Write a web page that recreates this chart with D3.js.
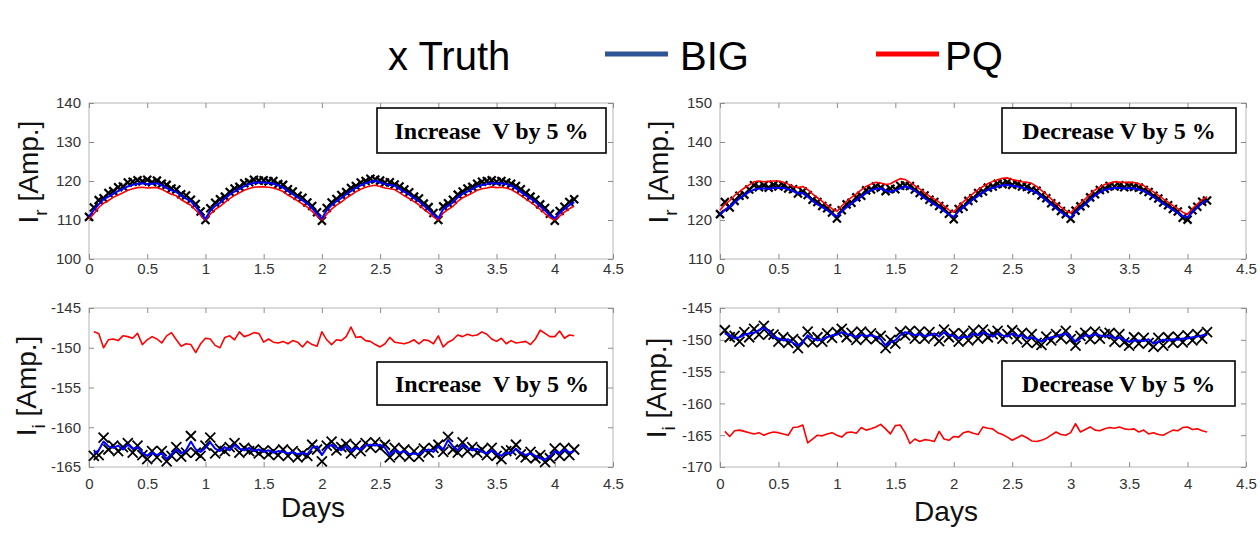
<!DOCTYPE html>
<html>
<head>
<meta charset="utf-8">
<script src="https://cdn.jsdelivr.net/npm/d3@7"></script>
<style>
  html, body { margin: 0; padding: 0; background: #fff; }
  svg { display: block; }
</style>
</head>
<body>
<svg id="chart" width="1260" height="535"></svg>
<script>
// Feeder current estimates, one sample per hour, over a little more than four days.
const dayTicks = [0, 0.5, 1, 1.5, 2, 2.5, 3, 3.5, 4, 4.5];
const irIncTicks = [100, 110, 120, 130, 140];
const irDecTicks = [110, 120, 130, 140, 150];
const iiIncTicks = [-165, -160, -155, -150, -145];
const iiDecTicks = [-170, -165, -160, -155, -150, -145];

const legendLabels = ["x Truth", "BIG", "PQ"];
const caseLabels = ["Increase  V by 5 %", "Decrease V by 5 %"];

// I_r, voltage raised 5 % (hours 0..100)
const irIncTruth = [
  110.8, 113.2, 115.1, 115.6, 116.9, 117.4, 118.4, 118.6, 119.6, 119.8, 120.2, 119.9, 120.3, 119.7, 120.1, 119.3, 119.0, 118.1, 117.8, 116.6, 116.3, 115.2, 114.1, 112.2,
  110.0, 113.0, 114.4, 115.3, 116.0, 117.2, 118.1, 118.5, 119.4, 119.7, 120.3, 120.1, 120.2, 119.9, 120.0, 119.2, 119.0, 117.9, 117.3, 116.2, 115.7, 114.5, 113.6, 112.0,
  109.8, 113.1, 114.5, 115.4, 116.4, 117.2, 118.2, 118.7, 119.6, 120.0, 120.6, 120.4, 120.1, 119.6, 119.7, 119.1, 118.6, 117.8, 117.1, 116.0, 115.5, 114.2, 113.3, 111.8,
  110.0, 113.5, 114.3, 115.2, 116.5, 117.3, 118.1, 118.5, 119.3, 119.8, 120.0, 120.2, 119.8, 120.0, 119.6, 119.3, 118.7, 117.9, 116.9, 116.0, 115.2, 114.0, 113.1, 111.6,
  109.8, 112.3, 113.4, 114.6, 115.3
];
const irIncBig = [
  110.8, 112.6, 114.0, 115.3, 116.0, 116.7, 117.4, 118.0, 118.6, 119.0, 119.3, 119.4, 119.2, 119.3, 119.4, 118.9, 118.2, 117.6, 117.2, 116.2, 115.5, 114.8, 113.4, 111.8,
  110.3, 112.4, 113.6, 114.4, 115.5, 116.5, 117.3, 118.0, 118.6, 119.2, 119.5, 119.6, 119.6, 119.5, 119.3, 118.9, 118.3, 117.4, 116.6, 115.8, 115.0, 114.2, 113.0, 111.6,
  110.4, 112.5, 113.8, 114.8, 115.6, 116.6, 117.4, 118.2, 118.9, 119.4, 119.8, 120.0, 119.6, 119.2, 119.0, 118.8, 118.0, 117.2, 116.5, 115.6, 114.8, 113.7, 112.6, 111.4,
  110.4, 112.8, 113.6, 114.5, 115.8, 116.7, 117.3, 117.9, 118.6, 119.0, 119.2, 119.5, 119.3, 119.4, 119.2, 118.8, 118.1, 117.2, 116.3, 115.5, 114.6, 113.5, 112.4, 111.2,
  110.4, 111.8, 112.8, 113.8, 114.6
];
const irIncPq = [
  110.3, 111.6, 113.2, 114.3, 115.0, 115.8, 116.4, 117.0, 117.6, 118.0, 118.3, 118.4, 118.2, 118.3, 118.3, 117.9, 117.2, 116.6, 116.2, 115.2, 114.5, 113.8, 112.5, 111.2,
  110.0, 111.5, 112.7, 113.5, 114.5, 115.5, 116.3, 117.0, 117.6, 118.1, 118.4, 118.5, 118.5, 118.4, 118.2, 117.8, 117.3, 116.4, 115.7, 114.9, 114.1, 113.3, 112.2, 111.0,
  110.0, 111.5, 112.8, 113.8, 114.6, 115.6, 116.4, 117.2, 117.9, 118.4, 118.7, 118.9, 118.6, 118.2, 118.0, 117.8, 117.0, 116.2, 115.5, 114.7, 113.9, 112.8, 111.8, 110.8,
  110.0, 111.8, 112.7, 113.5, 114.8, 115.7, 116.3, 116.9, 117.6, 118.0, 118.2, 118.5, 118.3, 118.4, 118.2, 117.8, 117.1, 116.3, 115.4, 114.6, 113.7, 112.7, 111.6, 110.6,
  110.0, 111.0, 112.0, 112.9, 113.6
];

// I_r, voltage lowered 5 % (hours 0..100)
const irDecTruth = [
  121.5, 124.6, 123.2, 124.9, 126.2, 126.5, 127.8, 128.9, 128.4, 128.9, 128.3, 129.0, 128.6, 128.9, 128.1, 127.9, 126.8, 127.3, 126.4, 125.2, 124.6, 123.6, 123.0, 121.9,
  120.4, 122.5, 124.0, 124.4, 125.8, 126.2, 127.6, 127.8, 128.6, 128.3, 127.4, 128.0, 127.9, 128.8, 128.9, 128.7, 127.8, 126.9, 126.3, 125.2, 124.6, 123.6, 122.8, 121.6,
  120.2, 122.8, 123.4, 124.9, 125.6, 126.9, 127.3, 128.3, 128.6, 129.3, 129.2, 129.7, 129.0, 129.2, 128.6, 128.5, 127.8, 127.5, 126.3, 125.6, 124.3, 123.5, 122.3, 121.5,
  120.3, 122.4, 123.5, 124.3, 125.8, 126.6, 127.7, 128.0, 128.7, 128.6, 128.9, 128.4, 128.7, 128.5, 128.3, 127.7, 127.2, 126.2, 125.5, 124.5, 123.8, 122.8, 122.2, 120.6,
  120.1, 122.5, 123.4, 124.7, 125.0
];
const irDecBig = [
  121.3, 122.6, 123.5, 124.5, 125.5, 126.4, 127.2, 127.8, 128.1, 128.1, 128.0, 128.2, 128.3, 128.2, 127.9, 127.4, 126.8, 126.9, 126.0, 124.9, 124.0, 123.3, 122.5, 121.6,
  120.9, 122.2, 123.3, 124.2, 125.1, 126.0, 126.9, 127.6, 128.0, 128.1, 127.5, 127.2, 127.6, 128.1, 128.6, 128.2, 127.5, 126.6, 125.6, 124.8, 124.0, 123.3, 122.3, 121.4,
  120.8, 122.3, 123.3, 124.3, 125.3, 126.2, 127.0, 127.7, 128.2, 128.6, 128.9, 129.0, 128.8, 128.6, 128.3, 127.9, 127.5, 127.0, 126.0, 125.0, 124.0, 123.0, 122.0, 121.2,
  120.6, 122.0, 123.0, 124.0, 125.2, 126.3, 127.1, 127.7, 128.0, 128.2, 128.2, 128.1, 128.2, 128.1, 127.8, 127.4, 126.7, 125.9, 125.0, 124.2, 123.4, 122.6, 121.8, 121.0,
  120.7, 122.0, 123.2, 124.3, 125.1
];
const irDecPq = [
  122.5, 124.0, 125.0, 126.3, 127.3, 128.2, 129.0, 129.8, 130.0, 129.8, 129.9, 130.0, 130.0, 129.7, 129.2, 128.6, 128.3, 128.6, 127.8, 126.7, 125.7, 124.8, 123.8, 122.9,
  122.2, 123.6, 124.8, 125.8, 126.7, 127.7, 128.6, 129.2, 129.7, 129.5, 129.1, 129.3, 130.0, 130.6, 130.4, 129.6, 128.8, 128.0, 127.0, 126.1, 125.4, 124.6, 123.6, 122.6,
  122.0, 123.6, 124.7, 125.8, 126.8, 127.8, 128.6, 129.3, 129.9, 130.3, 130.7, 130.8, 130.4, 130.1, 129.8, 129.7, 129.4, 128.6, 127.6, 126.6, 125.4, 124.3, 123.3, 122.4,
  121.8, 123.2, 124.3, 125.4, 126.6, 127.7, 128.5, 129.1, 129.5, 129.8, 129.7, 129.6, 129.7, 129.6, 129.3, 128.8, 128.0, 127.2, 126.3, 125.4, 124.6, 123.7, 122.9, 122.0,
  121.5, 122.9, 124.1, 125.2, 126.0
];

// I_i, voltage raised 5 % (hours 1..100)
const iiIncTruth = [
  -163.6, -163.5, -161.3, -162.8, -162.3, -163.0, -162.5, -162.0, -163.2, -162.3, -163.5, -164.0, -163.0, -163.8, -163.0, -164.3, -163.6, -162.5, -163.7, -163.2, -161.1, -163.2, -163.6, -162.3,
  -161.3, -163.3, -162.7, -163.0, -162.5, -162.0, -163.2, -162.6, -163.0, -162.8, -163.3, -162.9, -163.4, -163.0, -163.5, -162.8, -163.6, -163.0, -163.8, -163.3, -163.6, -162.2, -162.8, -164.3,
  -162.3, -161.8, -162.9, -162.5, -162.1, -163.3, -162.3, -163.0, -162.0, -162.5, -161.9, -162.6, -162.2, -163.8, -162.6, -163.5, -162.8, -163.7, -163.0, -163.7, -162.7, -163.2, -162.6, -162.2,
  -163.1, -161.2, -162.8, -163.2, -161.9, -163.0, -162.5, -163.2, -162.8, -163.5, -162.6, -163.6, -164.0, -163.0, -162.9, -162.2, -163.4, -163.8, -163.1, -163.9, -163.5, -164.4, -163.9, -162.7,
  -163.6, -162.6, -163.5, -162.8
];
const iiIncBig = [
  -163.3, -162.9, -161.8, -162.4, -162.6, -162.3, -162.8, -162.2, -162.7, -162.5, -163.2, -163.6, -163.2, -163.5, -163.3, -164.0, -163.4, -162.8, -163.3, -162.9, -161.8, -162.8, -163.1, -162.6,
  -161.9, -162.7, -163.0, -162.5, -162.9, -162.2, -162.7, -162.9, -162.6, -163.0, -162.8, -163.1, -162.9, -163.2, -163.0, -163.1, -163.3, -163.1, -163.4, -163.2, -163.4, -162.6, -162.4, -163.5,
  -162.6, -162.2, -162.5, -162.9, -162.4, -163.0, -162.6, -162.8, -162.3, -162.2, -162.3, -162.2, -162.6, -163.5, -162.9, -163.2, -163.0, -163.4, -163.3, -163.4, -163.0, -162.8, -163.1, -162.4,
  -162.8, -161.6, -162.4, -162.9, -162.2, -162.6, -162.9, -162.7, -163.1, -163.3, -162.9, -163.3, -163.6, -163.2, -163.3, -162.7, -163.2, -163.5, -163.3, -163.6, -163.9, -164.1, -163.6, -163.0,
  -163.3, -162.8, -163.2, -163.0
];
const iiIncPq = [
  -148.0, -148.2, -150.0, -149.0, -148.9, -149.1, -148.5, -148.6, -148.8, -148.2, -149.6, -149.0, -148.6, -148.9, -149.4, -148.5, -148.1, -149.0, -149.8, -149.5, -149.6, -150.6, -149.5, -148.8,
  -148.9, -149.7, -150.0, -148.7, -148.5, -149.0, -148.0, -148.6, -148.4, -148.1, -148.2, -149.3, -148.9, -149.3, -149.4, -149.2, -149.5, -149.1, -149.3, -149.9, -149.2, -149.6, -149.8, -148.0,
  -149.0, -149.6, -149.0, -149.1, -148.6, -147.4, -148.7, -148.6, -149.1, -149.2, -149.6, -149.9, -149.5, -148.7, -149.3, -149.4, -149.5, -149.3, -149.0, -149.5, -149.0, -149.1, -149.5, -148.5,
  -149.9, -149.3, -149.0, -148.4, -148.6, -148.3, -148.5, -148.4, -148.0, -148.3, -148.9, -149.2, -148.8, -149.5, -149.1, -149.4, -149.3, -149.2, -149.6, -148.9, -147.8, -148.2, -148.6, -148.6,
  -147.9, -148.8, -148.4, -148.5
];

// I_i, voltage lowered 5 % (hours 1..100)
const iiDecTruth = [
  -148.5, -149.6, -149.4, -150.3, -148.8, -149.6, -148.3, -149.2, -147.8, -149.1, -149.2, -150.3, -149.6, -150.5, -149.9, -151.3, -150.2, -148.7, -150.4, -149.6, -150.3, -149.0, -149.7, -148.8,
  -148.3, -149.6, -148.9, -150.0, -148.7, -149.8, -149.0, -149.9, -149.4, -151.3, -150.0, -150.6, -148.8, -149.3, -148.6, -149.8, -148.7, -149.8, -148.8, -149.5, -150.2, -148.4, -149.6, -149.0,
  -150.3, -149.0, -150.1, -148.6, -149.8, -148.4, -149.6, -149.1, -148.6, -149.8, -149.1, -148.5, -149.9, -148.9, -150.4, -149.1, -150.5, -150.8, -149.5, -150.1, -149.1, -149.7, -148.6, -149.9,
  -150.9, -149.4, -148.9, -149.9, -148.7, -149.8, -149.1, -148.9, -150.3, -149.1, -150.4, -150.9, -149.6, -150.6, -149.7, -150.5, -151.1, -149.7, -150.9, -149.6, -150.5, -149.5, -150.4, -149.3,
  -150.1, -149.1, -149.8, -148.8
];
const iiDecBig = [
  -149.0, -149.3, -149.8, -149.6, -149.2, -149.0, -148.9, -148.5, -148.1, -148.6, -149.6, -149.8, -150.1, -149.9, -150.5, -150.9, -150.4, -149.3, -149.8, -150.1, -149.9, -149.6, -149.3, -149.2,
  -148.8, -149.1, -149.3, -149.6, -149.2, -149.4, -149.3, -149.5, -149.9, -150.9, -150.4, -150.1, -149.3, -148.8, -149.0, -149.3, -149.1, -149.4, -149.3, -149.0, -149.5, -148.8, -149.2, -149.4,
  -149.8, -149.5, -149.6, -149.0, -149.3, -148.8, -149.1, -149.5, -149.0, -149.3, -149.5, -149.0, -149.4, -149.3, -149.8, -149.6, -149.9, -150.3, -149.9, -149.6, -149.5, -149.2, -149.0, -149.5,
  -150.3, -149.8, -149.3, -149.4, -149.1, -149.3, -149.5, -149.3, -149.8, -149.6, -150.0, -150.3, -150.1, -150.1, -150.2, -149.9, -150.6, -150.3, -150.0, -150.1, -149.9, -150.0, -149.8, -149.8,
  -149.6, -149.5, -149.3, -149.2
];
const iiDecPq = [
  -164.4, -165.2, -164.3, -164.2, -164.4, -164.6, -164.8, -164.6, -165.0, -164.7, -164.5, -164.6, -164.8, -165.0, -163.8, -163.7, -163.4, -166.2, -165.6, -165.0, -165.1, -164.8, -164.6, -165.0,
  -165.3, -164.6, -164.5, -164.7, -163.8, -164.2, -164.0, -163.7, -163.3, -164.0, -164.8, -163.5, -163.4, -164.6, -166.3, -165.6, -166.0, -165.7, -165.8, -166.0, -164.4, -165.6, -165.8, -165.2,
  -165.3, -164.6, -164.4, -164.7, -164.9, -163.7, -163.9, -164.0, -164.6, -164.9, -165.3, -165.8, -165.4, -165.0, -165.4, -165.9, -166.0, -165.8, -165.5, -165.0, -164.5, -164.9, -165.0, -164.6,
  -163.2, -164.5, -164.1, -163.7, -164.2, -164.3, -164.0, -163.8, -163.9, -163.7, -164.0, -164.1, -164.0, -164.5, -164.2, -164.8, -164.6, -164.9, -165.0, -164.6, -164.2, -164.3, -163.8, -163.7,
  -164.1, -164.0, -164.3, -164.5
];

const HOURS_PER_DAY = 24;
const COLOR_BIG = "#0000ff";
const COLOR_PQ = "#ff0000";
const COLOR_BIG_KEY = "#2f5597";

const svg = d3.select("#chart");

// Panel frames on the page
const panels = [
  { box: [89, 103, 613, 259], yDomain: [100, 140], yTicks: irIncTicks, startHour: 0,
    truth: irIncTruth, big: irIncBig, pq: irIncPq, sub: "r",
    label: caseLabels[0], note: [377, 108, 606, 153], xPad: 4, markSize: 4, markWidth: 2.2,
    yLabel: [38, 172], days: null },
  { box: [720, 103, 1246, 259], yDomain: [110, 150], yTicks: irDecTicks, startHour: 0,
    truth: irDecTruth, big: irDecBig, pq: irDecPq, sub: "r",
    label: caseLabels[1], note: [1002, 108, 1236, 153], xPad: 4, markSize: 4, markWidth: 2.2,
    yLabel: [668, 172], days: null },
  { box: [89, 308, 613, 467], yDomain: [-165, -145], yTicks: iiIncTicks, startHour: 1,
    truth: iiIncTruth, big: iiIncBig, pq: iiIncPq, sub: "i",
    label: caseLabels[0], note: [377, 362, 607, 405], xPad: 11, markSize: 5, markWidth: 1.8,
    yLabel: [36, 386], days: [313, 517] },
  { box: [720, 308, 1246, 467], yDomain: [-170, -145], yTicks: iiDecTicks, startHour: 1,
    truth: iiDecTruth, big: iiDecBig, pq: iiDecPq, sub: "i",
    label: caseLabels[1], note: [1002, 361, 1235, 406], xPad: 11, markSize: 5, markWidth: 1.8,
    yLabel: [666, 388], days: [946, 521] }
];

const tickFont = "'Liberation Sans', Arial, sans-serif";

panels.forEach(p => {
  const [x0, y0, x1, y1] = p.box;
  const x = d3.scaleLinear().domain([0, 4.5]).range([x0, x1]);
  const y = d3.scaleLinear().domain(p.yDomain).range([y1, y0]);
  const g = svg.append("g");

  // axis frame
  g.append("rect")
    .attr("x", x0).attr("y", y0).attr("width", x1 - x0).attr("height", y1 - y0)
    .attr("fill", "#fff").attr("stroke", "#b4b4b4").attr("stroke-width", 1);

  const fmt = d => String(d);
  const styleAxis = sel => {
    sel.select(".domain").remove();
    sel.selectAll(".tick line").attr("stroke", "#8c8c8c").attr("stroke-width", 1);
    sel.selectAll(".tick text").attr("fill", "#333").attr("font-size", 15)
      .attr("font-family", tickFont);
  };

  g.append("g").attr("transform", `translate(0,${y1})`)
    .call(d3.axisBottom(x).tickValues(dayTicks).tickFormat(fmt).tickSizeInner(-5).tickSizeOuter(0).tickPadding(p.xPad))
    .call(styleAxis);
  g.append("g").attr("transform", `translate(0,${y0})`)
    .call(d3.axisTop(x).tickValues(dayTicks).tickFormat("").tickSizeInner(-5).tickSizeOuter(0))
    .call(styleAxis);
  g.append("g").attr("transform", `translate(${x0},0)`)
    .call(d3.axisLeft(y).tickValues(p.yTicks).tickFormat(fmt).tickSizeInner(-5).tickSizeOuter(0).tickPadding(8))
    .call(styleAxis);
  g.append("g").attr("transform", `translate(${x1},0)`)
    .call(d3.axisRight(y).tickValues(p.yTicks).tickFormat("").tickSizeInner(-5).tickSizeOuter(0))
    .call(styleAxis);

  const day = i => (p.startHour + i) / HOURS_PER_DAY;
  const line = d3.line().x((d, i) => x(day(i))).y(d => y(d));

  // truth samples as x markers
  const s = p.markSize;
  g.append("g").selectAll("path").data(p.truth).join("path")
    .attr("d", (d, i) => {
      const cx = x(day(i)), cy = y(d);
      return `M${cx - s},${cy - s}L${cx + s},${cy + s}M${cx - s},${cy + s}L${cx + s},${cy - s}`;
    })
    .attr("stroke", "#000").attr("stroke-width", p.markWidth).attr("fill", "none");

  g.append("path").datum(p.pq).attr("d", line)
    .attr("fill", "none").attr("stroke", COLOR_PQ).attr("stroke-width", 1.6)
    .attr("stroke-linejoin", "round");
  g.append("path").datum(p.big).attr("d", line)
    .attr("fill", "none").attr("stroke", COLOR_BIG).attr("stroke-width", 2)
    .attr("stroke-linejoin", "round");

  // scenario note
  const [nx0, ny0, nx1, ny1] = p.note;
  g.append("rect").attr("x", nx0).attr("y", ny0).attr("width", nx1 - nx0).attr("height", ny1 - ny0)
    .attr("fill", "#fff").attr("stroke", "#000").attr("stroke-width", 1.6);
  g.append("text").attr("x", (nx0 + nx1) / 2).attr("y", (ny0 + ny1) / 2 + 8)
    .attr("text-anchor", "middle").attr("font-family", "'Liberation Serif', 'Times New Roman', serif")
    .attr("font-weight", "bold").attr("font-size", 24).style("white-space", "pre")
    .text(p.label);

  // y label with subscript
  const [lx, ly] = p.yLabel;
  const t = g.append("text")
    .attr("transform", `translate(${lx},${ly}) rotate(-90)`)
    .attr("text-anchor", "middle").attr("font-family", tickFont)
    .attr("font-size", 28).attr("fill", "#111");
  t.append("tspan").text("I");
  t.append("tspan").attr("dy", 9).attr("font-size", 19).text(p.sub);
  t.append("tspan").attr("dy", -9).style("white-space", "pre").text(" [Amp.]");

  if (p.days) {
    g.append("text").attr("x", p.days[0]).attr("y", p.days[1])
      .attr("text-anchor", "middle").attr("font-family", tickFont)
      .attr("font-size", 28).attr("fill", "#111").text("Days");
  }
});

// legend
const legendFont = "'Liberation Sans', Arial, sans-serif";
const lg = svg.append("g").attr("font-family", legendFont).attr("font-size", 40).attr("fill", "#000");
lg.append("text").attr("x", 388).attr("y", 70).text(legendLabels[0]);
lg.append("line").attr("x1", 605).attr("x2", 668).attr("y1", 54).attr("y2", 54)
  .attr("stroke", COLOR_BIG_KEY).attr("stroke-width", 5);
lg.append("text").attr("x", 680).attr("y", 70).text(legendLabels[1]);
lg.append("line").attr("x1", 876).attr("x2", 939).attr("y1", 54).attr("y2", 54)
  .attr("stroke", COLOR_PQ).attr("stroke-width", 5);
lg.append("text").attr("x", 945).attr("y", 70).text(legendLabels[2]);
</script>
</body>
</html>
